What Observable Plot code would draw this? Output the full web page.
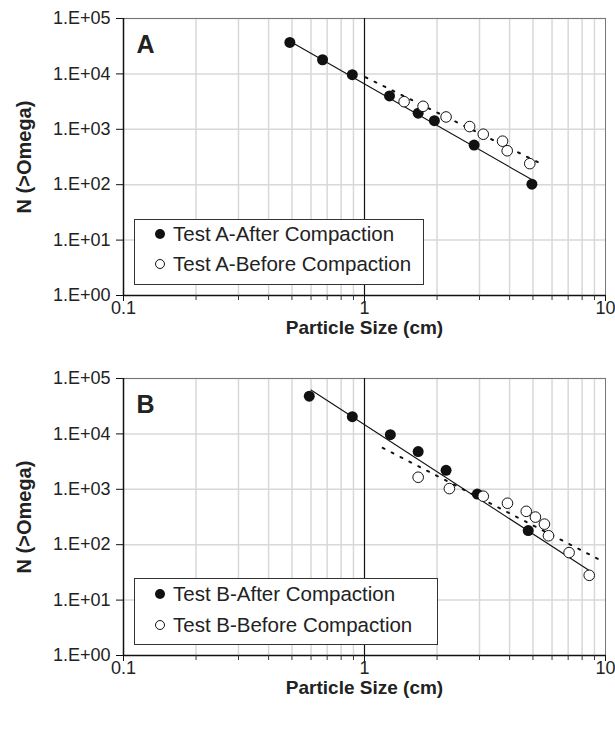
<!DOCTYPE html>
<html>
<head>
<meta charset="utf-8">
<script src="https://cdn.jsdelivr.net/npm/d3@7"></script>
<script src="https://cdn.jsdelivr.net/npm/@observablehq/plot@0.6"></script>
<style>
  html, body { margin: 0; padding: 0; background: white; }
  #root { width: 615px; height: 756px; position: relative; font-family: "Liberation Sans", Arial, sans-serif; }
  .panel { position: absolute; left: 0; width: 615px; height: 360px; }
  .legend { position: absolute; background: white; border: 1px solid #333; box-sizing: border-box;
            font-size: 20.5px; color: #222; }
  .legend .row { position: absolute; left: 0; white-space: nowrap; }
  .legend .mk { position: absolute; width: 10px; height: 10px; border-radius: 50%; box-sizing: border-box; }
</style>
</head>
<body>
<div id="root"></div>
<script>
// ---- axis ticks ----
const xTicks = [0.1, 1, 10];
const xTickLabels = ["0.1", "1", "10"];
const xMinor = [0.2, 0.3, 0.4, 0.5, 0.6, 0.7, 0.8, 0.9, 2, 3, 4, 5, 6, 7, 8, 9];
const yTicks = [1, 10, 100, 1000, 10000, 100000];
const yTickLabels = ["1.E+00", "1.E+01", "1.E+02", "1.E+03", "1.E+04", "1.E+05"];

// ---- Panel A ----
const aAfterSize = [0.49, 0.67, 0.89, 1.27, 1.67, 1.95, 2.85, 4.95];
const aAfterN    = [37000, 18000, 9700, 4000, 1950, 1430, 520, 102];
const aBeforeSize = [1.46, 1.75, 2.18, 2.73, 3.11, 3.74, 3.91, 4.85];
const aBeforeN    = [3150, 2600, 1670, 1120, 815, 610, 410, 240];
const aAfterTrendSize = [0.49, 5.0];
const aAfterTrendN    = [39000, 120];
const aBeforeTrendSize = [1.01, 5.45];
const aBeforeTrendN    = [8700, 235];

// ---- Panel B ----
const bAfterSize = [0.59, 0.89, 1.28, 1.67, 2.18, 2.94, 4.78];
const bAfterN    = [48000, 20500, 9700, 4800, 2200, 820, 180];
const bBeforeSize = [1.67, 2.25, 3.11, 3.92, 4.69, 5.12, 5.58, 5.8, 7.06, 8.56];
const bBeforeN    = [1650, 1030, 750, 560, 400, 315, 235, 145, 72, 28];
const bAfterTrendSize = [0.6, 8.5];
const bAfterTrendN    = [62000, 35];
const bBeforeTrendSize = [1.19, 9.5];
const bBeforeTrendN    = [5600, 53];

const zip = (xs, ys) => xs.map((x, i) => ({x, y: ys[i]}));

function panel(cfg) {
  const after = zip(cfg.afterSize, cfg.afterN);
  const before = zip(cfg.beforeSize, cfg.beforeN);
  const afterTrend = zip(cfg.afterTrendSize, cfg.afterTrendN);
  const beforeTrend = zip(cfg.beforeTrendSize, cfg.beforeTrendN);
  return Plot.plot({
    width: 615, height: 360,
    marginTop: 18, marginBottom: 65, marginLeft: 123, marginRight: 10,
    x: {type: "log", domain: [0.1, 10]},
    y: {type: "log", domain: [1, 100000]},
    style: {fontFamily: "Liberation Sans, Arial, sans-serif", fontSize: "18px", background: "white", color: "#222", overflow: "visible"},
    marks: [
      Plot.ruleX(xMinor, {stroke: "#d8d8d8", strokeWidth: 1.5}),
      Plot.ruleY(yTicks.slice(1), {stroke: "#d8d8d8", strokeWidth: 1.5}),
      Plot.ruleX([10], {stroke: "#777", strokeWidth: 1}),
      Plot.ruleY([100000], {stroke: "#777", strokeWidth: 1}),
      Plot.ruleX([1], {stroke: "#111", strokeWidth: 1.2}),
      Plot.ruleX([0.1], {stroke: "#111", strokeWidth: 1.5}),
      Plot.ruleY([1], {stroke: "#111", strokeWidth: 1.5}),
      Plot.line(afterTrend, {x: "x", y: "y", stroke: "#111", strokeWidth: 1.1}),
      Plot.line(beforeTrend, {x: "x", y: "y", stroke: "#111", strokeWidth: 2, strokeDasharray: "2,8"}),
      Plot.dot(after, {x: "x", y: "y", r: 5.5, fill: "#111", stroke: "none"}),
      Plot.dot(before, {x: "x", y: "y", r: 5.3, fill: "white", stroke: "#111", strokeWidth: 1}),
      Plot.axisY({ticks: yTicks, tickFormat: (d) => yTickLabels[yTicks.indexOf(d)], tickSize: 7, tickPadding: 6, label: null, stroke: "#111"}),
      Plot.axisX({ticks: xMinor, tickFormat: () => "", tickSize: 5, label: null, stroke: "#333"}),
      Plot.axisX({ticks: xTicks, tickFormat: (d) => xTickLabels[xTicks.indexOf(d)], tickSize: 6, tickPadding: 0, label: null, stroke: "#111"}),
      Plot.text([cfg.letter], {frameAnchor: "top-left", dx: 13, dy: 17, fontSize: 25, fontWeight: "bold", fill: "#222"}),
      Plot.text(["Particle Size (cm)"], {frameAnchor: "bottom", dy: 38, fontSize: 19, fontWeight: "bold", fill: "#222"}),
      Plot.text(["N (>Omega)"], {frameAnchor: "left", textAnchor: "middle", dx: -99, rotate: -90, fontSize: 20, fontWeight: "bold", fill: "#222"})
    ]
  });
}

function legend(parent, box, labels) {
  const lg = document.createElement("div");
  lg.className = "legend";
  Object.assign(lg.style, {left: box.left + "px", top: box.top + "px", width: box.width + "px", height: box.height + "px"});
  labels.forEach((lab, i) => {
    const cy = box.rows[i];
    const mk = document.createElement("div");
    mk.className = "mk";
    Object.assign(mk.style, {left: (box.mx - 5) + "px", top: (cy - 5) + "px",
      background: i === 0 ? "#111" : "white", border: i === 0 ? "none" : "1px solid #111"});
    lg.appendChild(mk);
    const t = document.createElement("div");
    t.className = "row";
    t.textContent = lab;
    Object.assign(t.style, {left: box.tx + "px", top: (cy - 12) + "px", lineHeight: "24px"});
    lg.appendChild(t);
  });
  parent.appendChild(lg);
}

const root = document.getElementById("root");

const pA = document.createElement("div");
pA.className = "panel"; pA.style.top = "0px";
pA.appendChild(panel({letter: "A", afterSize: aAfterSize, afterN: aAfterN, beforeSize: aBeforeSize, beforeN: aBeforeN,
  afterTrendSize: aAfterTrendSize, afterTrendN: aAfterTrendN, beforeTrendSize: aBeforeTrendSize, beforeTrendN: aBeforeTrendN}));
root.appendChild(pA);
legend(pA, {left: 134, top: 219, width: 290, height: 66, mx: 25, tx: 38, rows: [14, 44]},
  ["Test A-After Compaction", "Test A-Before Compaction"]);

const pB = document.createElement("div");
pB.className = "panel"; pB.style.top = "360px";
pB.appendChild(panel({letter: "B", afterSize: bAfterSize, afterN: bAfterN, beforeSize: bBeforeSize, beforeN: bBeforeN,
  afterTrendSize: bAfterTrendSize, afterTrendN: bAfterTrendN, beforeTrendSize: bBeforeTrendSize, beforeTrendN: bBeforeTrendN}));
root.appendChild(pB);
legend(pB, {left: 134, top: 218, width: 304, height: 67, mx: 25, tx: 38, rows: [15, 46]},
  ["Test B-After Compaction", "Test B-Before Compaction"]);
</script>
</body>
</html>
